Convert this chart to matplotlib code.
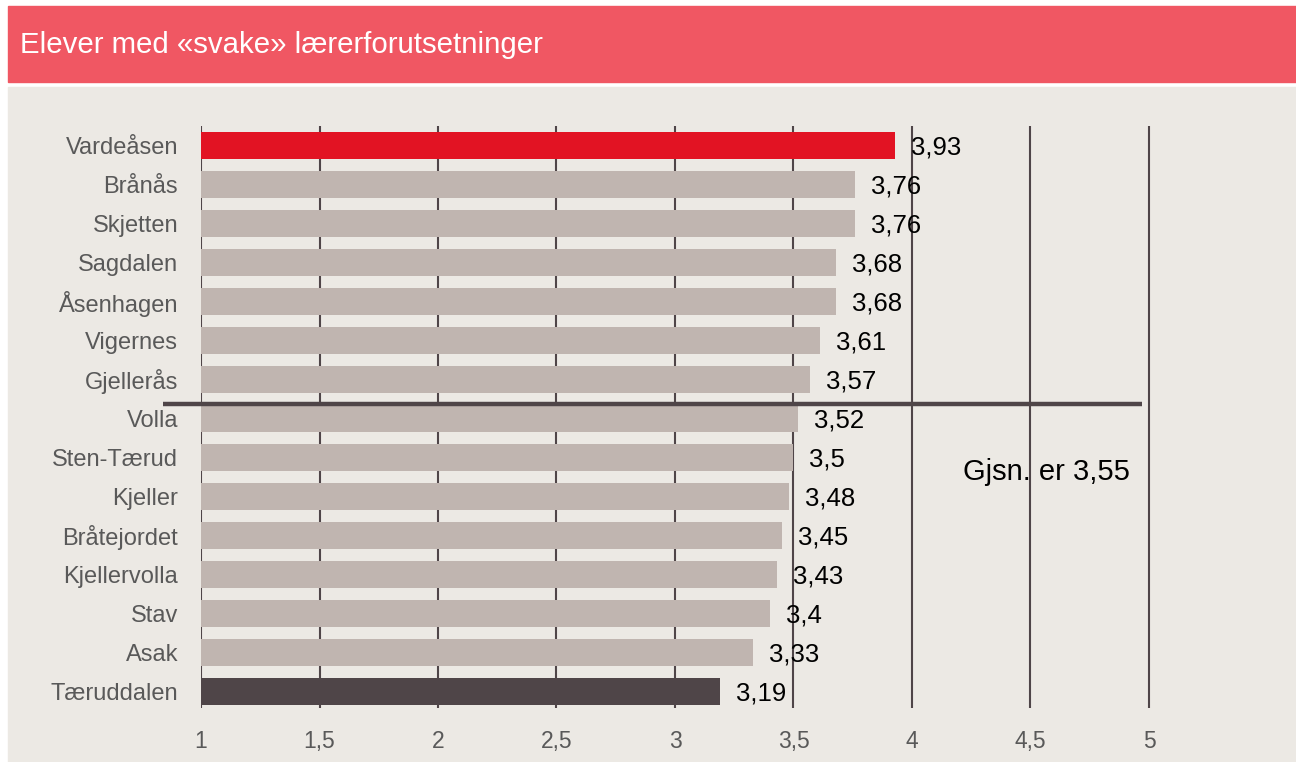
import matplotlib
matplotlib.use("Agg")
import matplotlib.pyplot as plt
from matplotlib.patches import Rectangle

plt.rcParams['font.family'] = ['Liberation Sans', 'DejaVu Sans']

# ---- data ----
schools = ["Vardeåsen", "Brånås", "Skjetten", "Sagdalen", "Åsenhagen", "Vigernes",
           "Gjellerås", "Volla", "Sten-Tærud", "Kjeller", "Bråtejordet",
           "Kjellervolla", "Stav", "Asak", "Tæruddalen"]
values = [3.93, 3.76, 3.76, 3.68, 3.68, 3.61, 3.57, 3.52, 3.50, 3.48, 3.45,
          3.43, 3.40, 3.33, 3.19]
value_labels = ["3,93", "3,76", "3,76", "3,68", "3,68", "3,61", "3,57", "3,52",
                "3,5", "3,48", "3,45", "3,43", "3,4", "3,33", "3,19"]
xticks = [1, 1.5, 2, 2.5, 3, 3.5, 4, 4.5, 5]
xtick_labels = ["1", "1,5", "2", "2,5", "3", "3,5", "4", "4,5", "5"]
mean_value = 3.55
mean_label = "Gjsn. er 3,55"
header = "Elever med «svake» lærerforutsetninger"

# ---- colours ----
RED_HDR = "#F05763"
PANEL = "#ECE9E4"
BAR_GREY = "#C0B5B0"
BAR_RED = "#E21323"
BAR_DARK = "#4F4548"
GRID = "#4F4548"
LABEL_GREY = "#595959"

W, H = 1296, 762
fig = plt.figure(figsize=(W / 100, H / 100), dpi=100, facecolor="white")

def fx(px):
    return px / W

def fy(py):
    return 1 - py / H

# header band and panel
fig.add_artist(Rectangle((fx(8), fy(82)), 1 - fx(8), (82 - 6) / H,
                         transform=fig.transFigure, color=RED_HDR, zorder=-10))
fig.add_artist(Rectangle((fx(8), 0), 1 - fx(8), (H - 87) / H,
                         transform=fig.transFigure, color=PANEL, zorder=-10))
fig.text(fx(20), fy(45), header, color="white", fontsize=21.2, va="center", ha="left")

x0, x1 = 1.0, 5.3
ppu = 237.0
ax_left = 201
ax_right = ax_left + (x1 - x0) * ppu
ax_top, ax_bottom = 126, 708
ax = fig.add_axes([fx(ax_left), fy(ax_bottom), (ax_right - ax_left) / W,
                   (ax_bottom - ax_top) / H])
ax.set_facecolor("none")
ax.set_zorder(5)

n = len(schools)
ypos = list(range(n))
colors = [BAR_GREY] * n
colors[0] = BAR_RED
colors[-1] = BAR_DARK

ax.barh(ypos, [v - x0 for v in values], left=x0, height=0.69, color=colors,
        zorder=3)

for xt in xticks:
    ax.axvline(xt, color=GRID, lw=1.5, zorder=1)

for y, v, lab in zip(ypos, values, value_labels):
    ax.annotate(lab, (v, y), xytext=(16, -2), textcoords="offset pixels",
                va="center", ha="left", fontsize=18.5, color="black", zorder=5)

# mean separator line between the schools above and below the mean
sep_y = 6.64
ax.plot([0.84, 4.97], [sep_y, sep_y], color=GRID, lw=3.2, zorder=4,
        clip_on=False, solid_capstyle="butt")
ax.text(4.215, 8.38, mean_label, fontsize=21, color="black", va="center",
        ha="left", zorder=5)

ax.set_xlim(x0, x1)
ax.set_ylim(n - 1 + 0.42, -0.49)
ax.set_yticks(ypos)
ax.set_yticklabels(schools, fontsize=17, color=LABEL_GREY)
ax.set_xticks(xticks)
ax.set_xticklabels(xtick_labels, fontsize=16.5, color=LABEL_GREY)
ax.tick_params(axis="both", length=0)
ax.tick_params(axis="y", pad=16.5)
ax.tick_params(axis="x", pad=16)
for s in ax.spines.values():
    s.set_visible(False)

fig.savefig("out.png", dpi=100, facecolor="white")
